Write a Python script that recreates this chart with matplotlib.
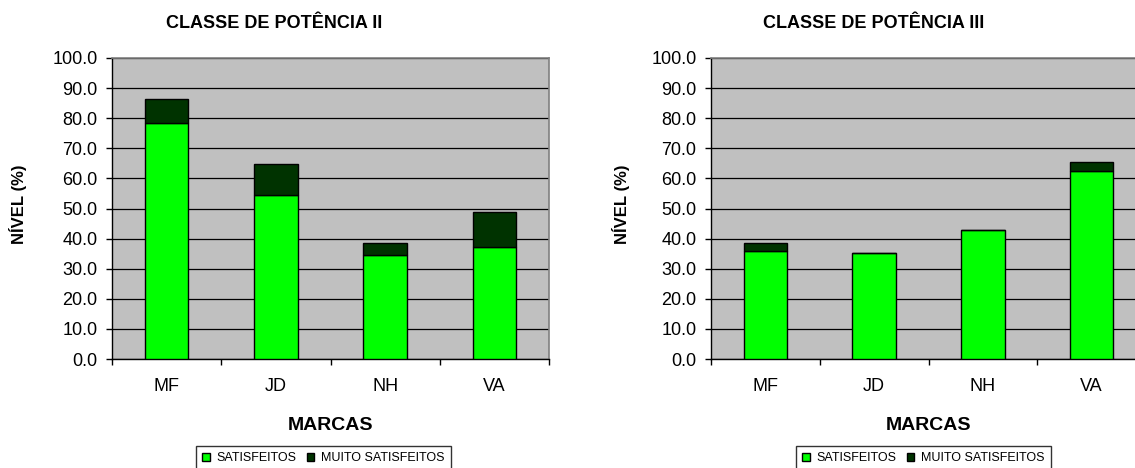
import numpy as np
import matplotlib
matplotlib.use("Agg")
import matplotlib.pyplot as plt

plt.rcParams['font.family'] = ['Liberation Sans', 'DejaVu Sans']

marcas = ["MF", "JD", "NH", "VA"]

# classe de potencia II
satisfeitos_ii = [78.4, 54.5, 34.4, 37.3]
muito_ii = [8.0, 10.3, 4.2, 11.5]

# classe de potencia III
satisfeitos_iii = [35.9, 35.3, 43.0, 62.5]
muito_iii = [2.5, 0.0, 0.0, 3.0]

titulos = ["CLASSE DE POTÊNCIA II", "CLASSE DE POTÊNCIA III"]
yticks = np.arange(0, 101, 10)

VERDE = "#00FF00"
ESCURO = "#003300"
FUNDO = "#C0C0C0"

W, H = 1135, 468


def desenhaPainel(ax, sat, muito):
    x = np.arange(len(marcas))
    ax.set_facecolor(FUNDO)
    ax.bar(x, sat, width=0.4, color=VERDE, edgecolor="black", linewidth=1.0,
           label="SATISFEITOS", zorder=3)
    ax.bar(x, muito, bottom=sat, width=0.4, color=ESCURO, edgecolor="black",
           linewidth=1.0, label="MUITO SATISFEITOS", zorder=3)

    ax.set_ylim(0, 100)
    ax.set_xlim(-0.5, len(marcas) - 0.5)
    ax.set_yticks(yticks)
    ax.set_yticklabels([f"{v:.1f}" for v in yticks], fontsize=13)
    ax.yaxis.grid(True, color="black", linewidth=0.9, zorder=0)
    ax.set_axisbelow(True)

    ax.set_xticks(x)
    ax.set_xticklabels(marcas, fontsize=13)
    ax.set_xticks(np.arange(-0.5, len(marcas)), minor=True)
    ax.tick_params(axis="x", which="major", length=0, pad=14)
    ax.tick_params(axis="x", which="minor", length=4.5, color="black", width=1)
    ax.tick_params(axis="y", length=4.5, width=1, pad=6)

    for s in ["top", "right"]:
        ax.spines[s].set_color("#808080")
        ax.spines[s].set_linewidth(1.2)
    for s in ["left", "bottom"]:
        ax.spines[s].set_color("black")
        ax.spines[s].set_linewidth(1.0)


fig = plt.figure(figsize=(11.35, 4.68), dpi=100)

# posicoes em pixels: esquerda, direita da area do grafico
paineis = [
    dict(esq=112, dir=549, tit_x=274, ylab_x=18, leg_x=196,
         sat=satisfeitos_ii, muito=muito_ii, titulo=titulos[0]),
    dict(esq=711, dir=1146, tit_x=874, ylab_x=621, leg_x=796,
         sat=satisfeitos_iii, muito=muito_iii, titulo=titulos[1]),
]
topo, base = 58, 359

for p in paineis:
    ax = fig.add_axes([p["esq"] / W, 1 - base / H, (p["dir"] - p["esq"]) / W, (base - topo) / H])
    desenhaPainel(ax, p["sat"], p["muito"])

    fig.text(p["tit_x"] / W, 1 - 24 / H, p["titulo"], fontsize=13, fontweight="bold",
             ha="center", va="center")
    fig.text(p["ylab_x"] / W, 1 - 204 / H, "NÍVEL (%)", fontsize=12, fontweight="bold",
             rotation=90, ha="center", va="center")
    fig.text((p["esq"] + p["dir"]) / 2 / W, 1 - 425 / H, "MARCAS", fontsize=14,
             fontweight="bold", ha="center", va="center")

    h, l = ax.get_legend_handles_labels()
    leg = fig.legend(h, l, loc="upper left", bbox_to_anchor=(p["leg_x"] / W, 1 - 446 / H),
                     ncol=2, fontsize=9, frameon=True, fancybox=False,
                     edgecolor="black", handlelength=0.6, handleheight=0.6,
                     handletextpad=0.55, columnspacing=0.8, borderaxespad=0,
                     borderpad=0.5)
    leg.get_frame().set_linewidth(1.0)

fig.savefig("out.png", dpi=100)
